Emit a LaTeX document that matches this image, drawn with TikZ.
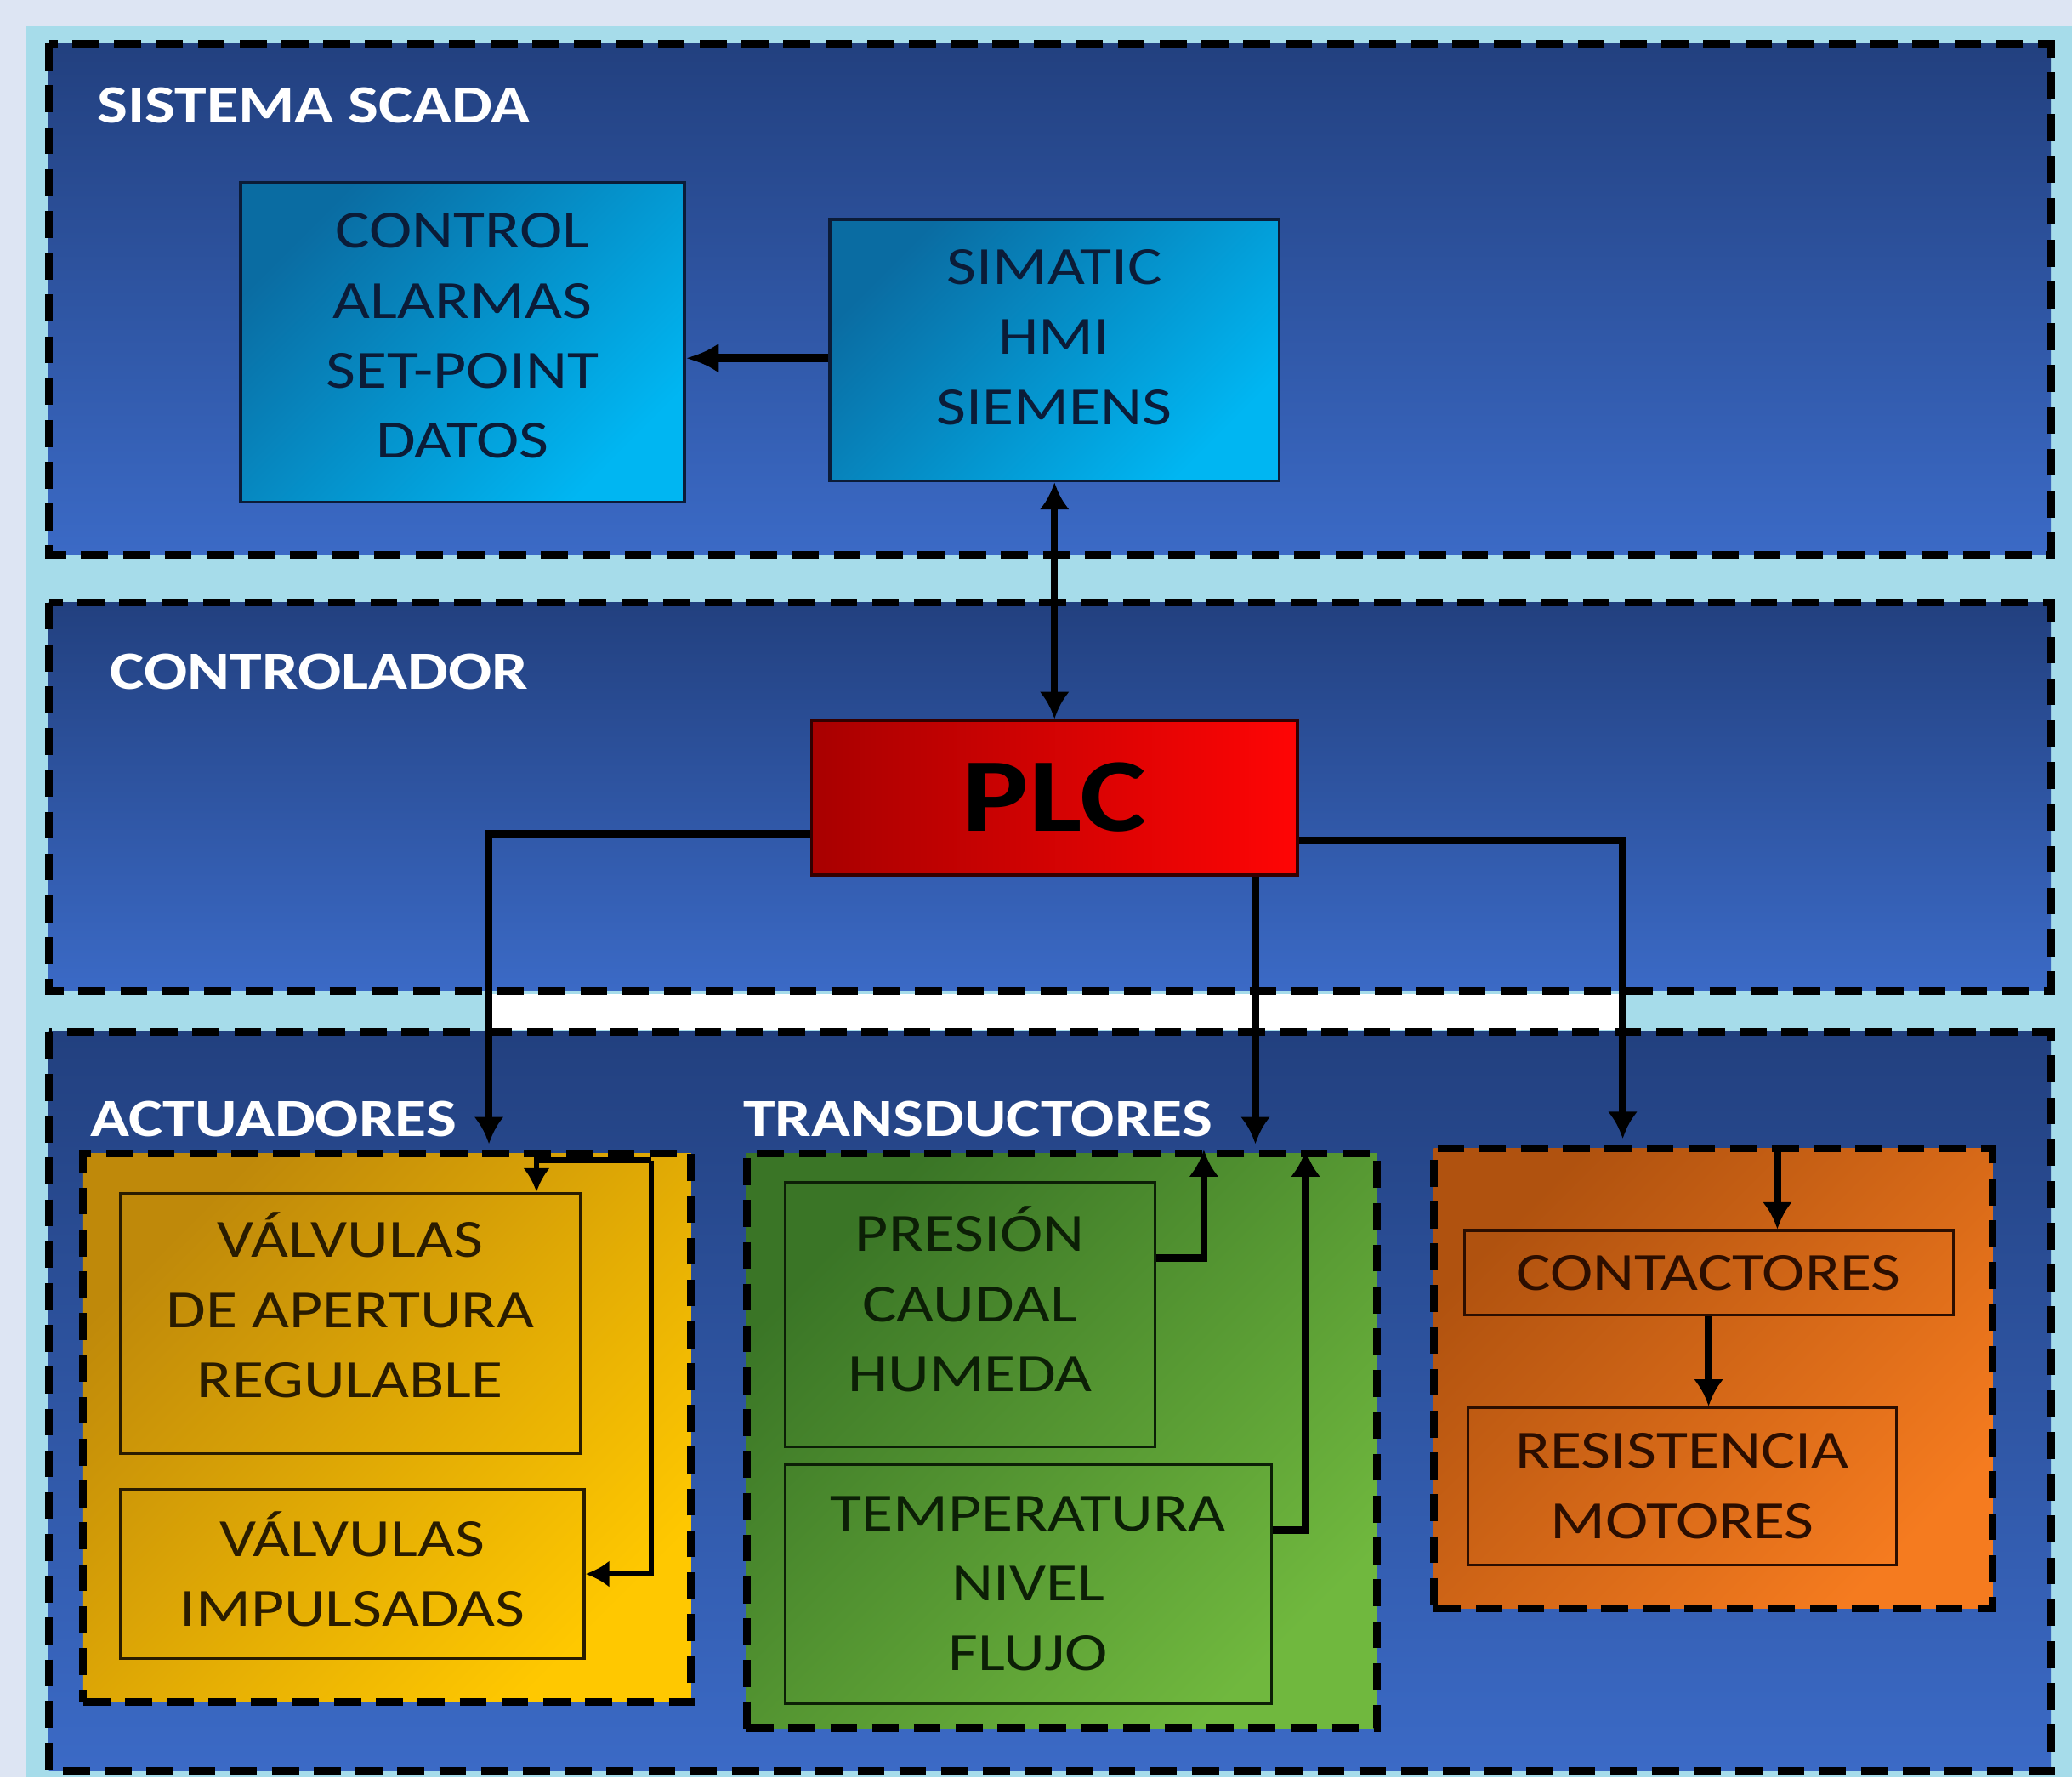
\documentclass[tikz,border=0pt]{standalone}
\usepackage{fontspec}
\setmainfont{Carlito}
\newfontfamily\cfont[FakeStretch=1.2]{Carlito}
\usetikzlibrary{arrows.meta}
\newlength\pxu
\setlength\pxu{0.015542cm}
\definecolor{lav}{HTML}{DDE5F3}
\definecolor{cyanf}{HTML}{A6DCEA}
\definecolor{pTop}{HTML}{22407F}
\definecolor{pBot}{HTML}{3B6AC6}
\definecolor{ctrlA}{HTML}{0A6CA2}
\definecolor{ctrlB}{HTML}{00B6F2}
\definecolor{plcA}{HTML}{A80000}
\definecolor{plcB}{HTML}{FF0505}
\definecolor{actA}{HTML}{BF890A}
\definecolor{actB}{HTML}{FFC800}
\definecolor{traA}{HTML}{3A7526}
\definecolor{traB}{HTML}{70B83E}
\definecolor{oraA}{HTML}{B0520F}
\definecolor{oraB}{HTML}{F57B1F}
\definecolor{txtBlue}{HTML}{0B1C38}
\definecolor{txtYel}{HTML}{2A1C00}
\definecolor{txtGrn}{HTML}{0C1F06}
\definecolor{txtOra}{HTML}{2C0E00}
\tikzset{
  panel/.style={draw=black, line width=2.6pt, dash pattern=on 9pt off 5pt, top color=pTop, bottom color=pBot},
  grp/.style 2 args={rectangle, draw=black, line width=2.6pt, dash pattern=on 9pt off 5pt, minimum width=#1*\pxu, minimum height=#2*\pxu, inner sep=0pt},
  box/.style 2 args={rectangle, minimum width=#1*\pxu, minimum height=#2*\pxu, inner sep=0pt, align=center, font=\cfont\fontsize{18}{23.4}\selectfont},
  raise/.style={text depth=#1*\pxu},
  hdr/.style={anchor=west, inner sep=0pt, text=white, font=\cfont\bfseries\fontsize{18}{20}\selectfont},
  conn/.style={line width=2.5pt, -{Latex[length=9pt,width=10pt]}},
  thinconn/.style={line width=1.8pt, -{Latex[length=8pt,width=9pt]}},
}
\begin{document}
\begin{tikzpicture}[x=0.015542cm, y=-0.015542cm]
\useasboundingbox (0,0) rectangle (1568,1345);
\fill[lav] (0,0) rectangle (1568,1345);
\fill[cyanf] (20,20) rectangle (1568,1345);
\fill[white] (370,752) rectangle (1228,779);
\draw[panel] (37,33) rectangle (1552,420);
\draw[panel] (37,456) rectangle (1552,750);
\draw[panel] (37,781) rectangle (1552,1340);

% headers
\node[hdr] (hscada) at (73,80) {SISTEMA SCADA};
\node[hdr] (hctrl) at (83,508) {CONTROLADOR};
\node[hdr] (hact) at (68,847) {ACTUADORES};
\node[hdr] (htra) at (562,847) {TRANSDUCTORES};

% SCADA boxes
\node[box={336}{242}, raise=10, draw=txtBlue, line width=1pt, top color=ctrlA, bottom color=ctrlB, shading angle=45, text=txtBlue] (ctrl) at (350,259) {CONTROL\\ALARMAS\\SET-POINT\\DATOS};
\node[box={340}{198}, raise=20, draw=txtBlue, line width=1pt, top color=ctrlA, bottom color=ctrlB, shading angle=45, text=txtBlue] (hmi) at (798,265) {SIMATIC\\HMI\\SIEMENS};

% PLC
\node[rectangle, draw=black!80!red, line width=1pt, minimum width=368*\pxu, minimum height=117*\pxu, inner sep=0pt, left color=plcA, right color=plcB, font=\cfont\bfseries\fontsize{35}{40}\selectfont] (plc) at (798,603.5) {PLC};

% group boxes
\node[grp={460}{415}, top color=actA, bottom color=actB, shading angle=45] (act) at (293,1080.5) {};
\node[grp={477}{435}, top color=traA, bottom color=traB, shading angle=45] (tra) at (803.5,1090.5) {};
\node[grp={423}{348}, top color=oraA, bottom color=oraB, shading angle=45] (ora) at (1296.5,1043) {};

% inner boxes
\node[box={348}{197}, raise=28, draw=txtYel, line width=0.9pt, text=txtYel] (v1) at (265,1001.5) {VÁLVULAS\\DE APERTURA\\REGULABLE};
\node[box={351}{128}, raise=8, draw=txtYel, line width=0.9pt, text=txtYel] (v2) at (266.5,1191) {VÁLVULAS\\IMPULSADAS};
\node[box={280}{200}, raise=24, draw=txtGrn, line width=0.9pt, text=txtGrn] (t1) at (734,995) {PRESIÓN\\CAUDAL\\HUMEDA};
\node[box={368}{181}, draw=txtGrn, line width=0.9pt, text=txtGrn] (t2) at (778,1198.5) {TEMPERATURA\\NIVEL\\FLUJO};
\node[box={370}{64}, draw=txtOra, line width=0.9pt, text=txtOra] (c1) at (1293,963) {CONTACTORES};
\node[box={324}{119}, draw=txtOra, line width=0.9pt, text=txtOra] (c2) at (1273,1124.5) {RESISTENCIA\\MOTORES};

% helper coordinates
\coordinate (xa) at (370,0);
\coordinate (xb) at (950,0);
\coordinate (xc) at (1228,0);
\coordinate (ai) at (493,878);
\coordinate (xv) at (406,0);
\coordinate (xt1) at (911,0);
\coordinate (xt2) at (988,0);
\coordinate (xo) at (1345,0);
\coordinate (yh) at (0,271);

% connectors
\draw[line width=2.8pt, -{Latex[length=11pt,width=10pt]}] (hmi.west |- yh) -- (ctrl.east |- yh);
\draw[line width=2.4pt, {Latex[length=9pt,width=10pt]}-{Latex[length=9pt,width=10pt]}] (hmi.south) -- (plc.north);
\draw[conn, shorten >=2pt] ([yshift=-27.5*\pxu]plc.west) -| (xa |- act.north);
\draw[conn, shorten >=2pt] (xb |- plc.south) -- (xb |- tra.north);
\draw[conn, shorten >=2pt] ([yshift=-32.5*\pxu]plc.east) -| (xc |- ora.north);

\draw[thinconn] (ai) -| (xv |- v1.north);
\draw[thinconn] (ai) |- (v2.east);
\draw[conn] ([yshift=43*\pxu]t1.east) -| (xt1 |- tra.north);
\draw[conn] ([yshift=40.5*\pxu]t2.east) -| (xt2 |- tra.north);
\draw[conn] (xo |- ora.north) -- (xo |- c1.north);
\draw[conn] (c1.south) -- (c1.south |- c2.north);
\end{tikzpicture}
\end{document}
